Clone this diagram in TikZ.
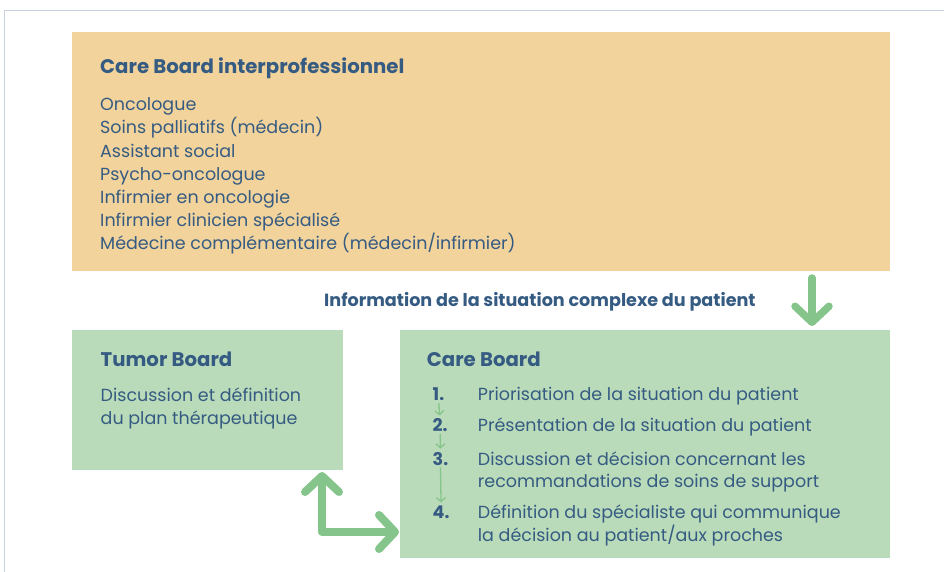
\documentclass[tikz,border=0pt]{standalone}
\usepackage{fontspec}
\setmainfont{Poppins}
\usetikzlibrary{arrows.meta}

\definecolor{inkblue}{HTML}{355B82}
\definecolor{sand}{HTML}{F2D39B}
\definecolor{mint}{HTML}{BADBBA}
\definecolor{leaf}{HTML}{85C48B}
\definecolor{rule}{HTML}{C8D1DE}

\tikzset{
  panel/.style={rectangle, draw=none, inner sep=0pt, anchor=north west},
  sandpanel/.style={panel, fill=sand},
  mintpanel/.style={panel, fill=mint},
  heading/.style={inner sep=0pt, anchor=base west, text=inkblue,
    font=\fontsize{19.7}{22}\selectfont\bfseries},
  body/.style={inner sep=0pt, anchor=base west, text=inkblue,
    font=\fontsize{17.5}{22}\selectfont},
  stepnum/.style={inner sep=0pt, anchor=base west, text=inkblue,
    font=\fontsize{17.5}{22}\selectfont\bfseries},
  flowarrow/.style={draw=leaf, line width=7.5pt, line cap=round, line join=round,
    -{Straight Barb[length=16pt,width=34pt,round]}},
  twoway/.style={draw=leaf, line width=8pt, line cap=round, line join=round,
    {Straight Barb[length=16pt,width=34pt,round]}-{Straight Barb[length=16pt,width=34pt,round]}},
  steparrow/.style={draw=leaf, line width=1.3pt,
    -{Straight Barb[length=4pt,width=9pt]}, shorten <=2pt, shorten >=3pt},
}

\begin{document}
\begin{tikzpicture}[x=1pt,y=-1pt]
\useasboundingbox (0,0) rectangle (944,572);

% outer frame lines
\draw[rule, line width=1pt] (4,572) -- (4,11) -- (944,11);

% panels
\node[sandpanel, minimum width=818pt, minimum height=239pt] (team) at (72,32) {};
\node[mintpanel, minimum width=271pt, minimum height=140pt] (tumor) at (72,330) {};
\node[mintpanel, minimum width=490pt, minimum height=228pt] (care) at (400,330) {};

% interprofessional team
\node[heading] (teamtitle) at (100,73.3) {Care Board interprofessionnel};
\node[body] (m1) at (100,110.7) {Oncologue};
\node[body] (m2) at (100,133.9) {Soins palliatifs (médecin)};
\node[body] (m3) at (100,157.1) {Assistant social};
\node[body] (m4) at (100,180.3) {Psycho-oncologue};
\node[body] (m5) at (100,203.5) {Infirmier en oncologie};
\node[body] (m6) at (100,226.7) {Infirmier clinicien spécialisé};
\node[body] (m7) at (100,249.9) {Médecine complémentaire (médecin/infirmier)};

% information label
\node[heading, font=\fontsize{17.6}{20}\selectfont\bfseries] (info) at (324,306.7)
  {Information de la situation complexe du patient};

% tumor board
\node[heading] (tumortitle) at (100.5,366) {Tumor Board};
\node[body] (tb1) at (100.5,401.7) {Discussion et définition};
\node[body] (tb2) at (100.5,424.7) {du plan thérapeutique};

% care board
\node[heading] (caretitle) at (426.7,366) {Care Board};
\node[stepnum] (n1) at (432.5,400.7) {1.};
\node[stepnum] (n2) at (432.5,431.7) {2.};
\node[stepnum] (n3) at (432.5,465) {3.};
\node[stepnum] (n4) at (432.5,518.3) {4.};
\node[body] (s1) at (477.7,400.7) {Priorisation de la situation du patient};
\node[body] (s2) at (477.7,431.7) {Présentation de la situation du patient};
\node[body] (s3a) at (477.7,465) {Discussion et décision concernant les};
\node[body] (s3b) at (477.7,487.7) {recommandations de soins de support};
\node[body] (s4a) at (477.7,518.3) {Définition du spécialiste qui communique};
\node[body] (s4b) at (477.7,541.7) {la décision au patient/aux proches};

\draw[steparrow] (n1.south) -- (n2.north);
\draw[steparrow] (n2.south) -- (n3.north);
\draw[steparrow] (n3.south) -- (n4.north);

% flow arrows
\coordinate (downstart) at (812,278);
\coordinate (downend) at (812,326);
\draw[flowarrow] (downstart) -- (downend);

\coordinate (upend) at (322,472);
\coordinate (corner) at (322,532);
\coordinate (rightend) at (399,532);
\draw[twoway] (upend) -- (corner) -- (rightend);
\end{tikzpicture}
\end{document}
